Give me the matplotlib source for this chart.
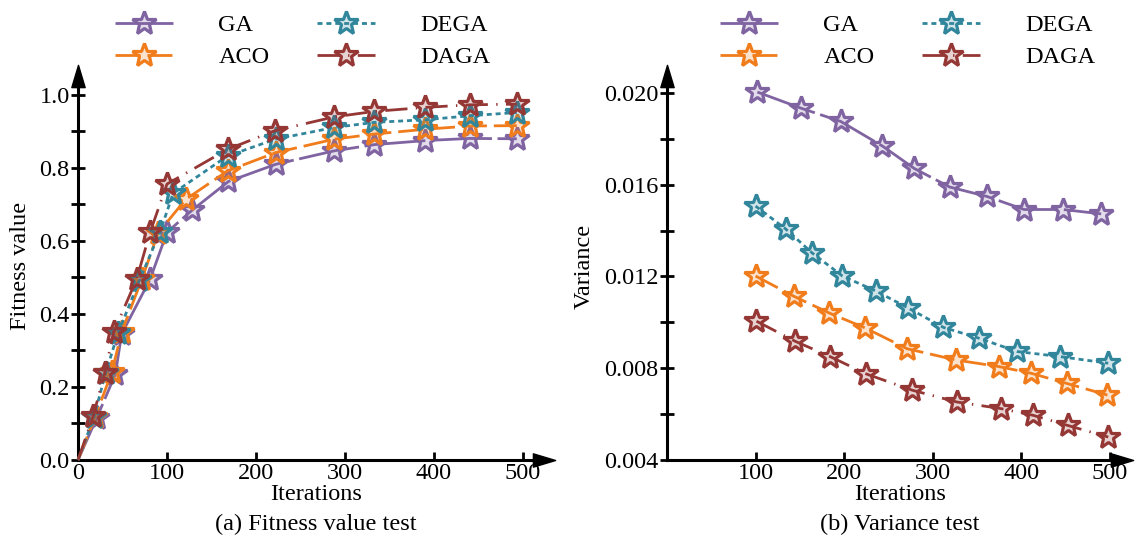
import numpy as np
import matplotlib
matplotlib.use("Agg")
import matplotlib.pyplot as plt
from matplotlib.ticker import MultipleLocator, FormatStrFormatter
from matplotlib.colors import to_rgba
from matplotlib.path import Path

plt.rcParams.update({
    "font.family": ["Liberation Serif", "DejaVu Serif"],
    "font.size": 17.5,
    "axes.linewidth": 2.2,
})

# ---- data ----
series = ["GA", "ACO", "DEGA", "DAGA"]

fit_x_ga = [0, 21, 42, 49, 81, 100, 128, 169, 222, 288, 333, 390, 440, 493]
fit_ga = [0, 0.115, 0.235, 0.345, 0.495, 0.624, 0.684, 0.763, 0.810, 0.847, 0.864, 0.875, 0.881, 0.880]
fit_x_aco = [0, 19, 38, 49, 72, 90, 121, 168, 222, 288, 333, 390, 440, 493]
fit_aco = [0, 0.117, 0.240, 0.350, 0.497, 0.622, 0.714, 0.792, 0.842, 0.879, 0.893, 0.906, 0.915, 0.916]
fit_x_dega = [0, 18, 31, 45, 69, 92, 107, 168, 222, 288, 333, 390, 440, 493]
fit_dega = [0, 0.118, 0.238, 0.348, 0.492, 0.624, 0.731, 0.833, 0.879, 0.911, 0.925, 0.932, 0.943, 0.952]
fit_x_daga = [0, 17, 30, 40, 66, 81, 100, 168, 221, 288, 333, 390, 440, 493]
fit_daga = [0, 0.120, 0.238, 0.350, 0.496, 0.624, 0.756, 0.851, 0.902, 0.940, 0.955, 0.966, 0.973, 0.975]

var_x_ga = [102, 151, 196, 243, 279, 319, 361, 403, 447, 490]
var_ga = [0.02004, 0.01934, 0.01876, 0.01769, 0.01671, 0.0159, 0.01549, 0.01492, 0.01492, 0.01473]
var_x_aco = [100, 143, 183, 224, 271, 326, 375, 411, 451, 497]
var_aco = [0.01202, 0.01114, 0.01041, 0.00975, 0.00885, 0.00836, 0.00807, 0.00778, 0.00734, 0.00683]
var_x_dega = [100, 134, 164, 198, 236, 272, 312, 352, 395, 443, 498]
var_dega = [0.01507, 0.01407, 0.01302, 0.01202, 0.01136, 0.01063, 0.00978, 0.00931, 0.00873, 0.00851, 0.00822]
var_x_daga = [101, 145, 184, 225, 277, 327, 377, 413, 452, 498]
var_daga = [0.01005, 0.00917, 0.00851, 0.00775, 0.00704, 0.00653, 0.00624, 0.00595, 0.00551, 0.00500]

fit_data = [(fit_x_ga, fit_ga), (fit_x_aco, fit_aco), (fit_x_dega, fit_dega), (fit_x_daga, fit_daga)]
var_data = [(var_x_ga, var_ga), (var_x_aco, var_aco), (var_x_dega, var_dega), (var_x_daga, var_daga)]

colors = {"GA": "#8064A2", "ACO": "#F07C1C", "DEGA": "#31869B", "DAGA": "#953735"}
styles = {
    "GA": (0, (22, 2)),
    "ACO": (0, (9, 2.5)),
    "DEGA": (0, (1.8, 1.4)),
    "DAGA": (0, (8, 3, 0.5, 3)),
}

# slim arrow heads for the axis ends
ARROW_R = Path([(-1, -0.6), (1, 0), (-1, 0.6), (-1, -0.6)],
               [Path.MOVETO, Path.LINETO, Path.LINETO, Path.CLOSEPOLY])
ARROW_U = Path([(-0.6, -1), (0, 1), (0.6, -1), (-0.6, -1)],
               [Path.MOVETO, Path.LINETO, Path.LINETO, Path.CLOSEPOLY])

W, H = 1137, 543
fig = plt.figure(figsize=(W / 100, H / 100), dpi=100)


def box(x0, x1, ytop, ybot):
    return [x0 / W, 1 - ybot / H, (x1 - x0) / W, (ybot - ytop) / H]


ax1 = fig.add_axes(box(78, 544, 76, 460))
ax2 = fig.add_axes(box(667, 1122, 76, 460))


def draw(ax, data, skip_first):
    handles = []
    for name, (xs, ys) in zip(series, data):
        c = colors[name]
        face = to_rgba(c, 0.22)
        start = 1 if skip_first else 0
        h, = ax.plot(xs, ys, color=c, lw=2.0, ls=styles[name], marker="*",
                     ms=18, mec=c, mew=2.3, mfc=face,
                     markevery=list(range(start, len(xs))), label=name,
                     clip_on=False, zorder=3)
        handles.append(h)
    return handles


def style_axes(ax):
    for s in ("top", "right"):
        ax.spines[s].set_visible(False)
    ax.tick_params(axis="x", direction="in", length=6, width=2, pad=2)
    ax.tick_params(axis="y", which="both", direction="inout", length=10, width=2, pad=1)
    ax.plot(1, 0, marker=ARROW_R, color="k", ms=16, transform=ax.transAxes,
            clip_on=False, zorder=5)
    ax.plot(0, 1, marker=ARROW_U, color="k", ms=16, transform=ax.transAxes,
            clip_on=False, zorder=5)


handles = draw(ax1, fit_data, True)
ax1.set_xlim(0, 523.6)
ax1.set_ylim(0, 1.052)
ax1.set_xticks([0, 100, 200, 300, 400, 500])
ax1.yaxis.set_major_locator(MultipleLocator(0.2))
ax1.yaxis.set_minor_locator(MultipleLocator(0.1))
ax1.yaxis.set_major_formatter(FormatStrFormatter("%.1f"))
style_axes(ax1)

draw(ax2, var_data, False)
ax2.set_xlim(0, 513.5)
ax2.set_ylim(0.004, 0.02074)
ax2.set_xticks([100, 200, 300, 400, 500])
ax2.yaxis.set_major_locator(MultipleLocator(0.004))
ax2.yaxis.set_minor_locator(MultipleLocator(0.002))
ax2.yaxis.set_major_formatter(FormatStrFormatter("%.3f"))
style_axes(ax2)

leg_kw = dict(ncol=2, loc="upper left", frameon=False, handlelength=2.4,
              handletextpad=1.85, columnspacing=1.95, labelspacing=0.42,
              borderpad=0, borderaxespad=0, bbox_transform=fig.transFigure)
fig.legend(handles=handles, bbox_to_anchor=(115 / W, 1 - 14 / H), **leg_kw)
fig.legend(handles=handles, bbox_to_anchor=(720 / W, 1 - 14 / H), **leg_kw)

fig.text(20 / W, 1 - 266 / H, "Fitness value", rotation=90, ha="center", va="center")
fig.text(584 / W, 1 - 266 / H, "Variance", rotation=90, ha="center", va="center")
fig.text(316 / W, 1 - 495 / H, "Iterations", ha="center", va="center")
fig.text(900 / W, 1 - 495 / H, "Iterations", ha="center", va="center")
fig.text(316 / W, 1 - 524 / H, "(a) Fitness value test", ha="center", va="center")
fig.text(900 / W, 1 - 524 / H, "(b) Variance test", ha="center", va="center")

fig.savefig("out.png", dpi=100)
